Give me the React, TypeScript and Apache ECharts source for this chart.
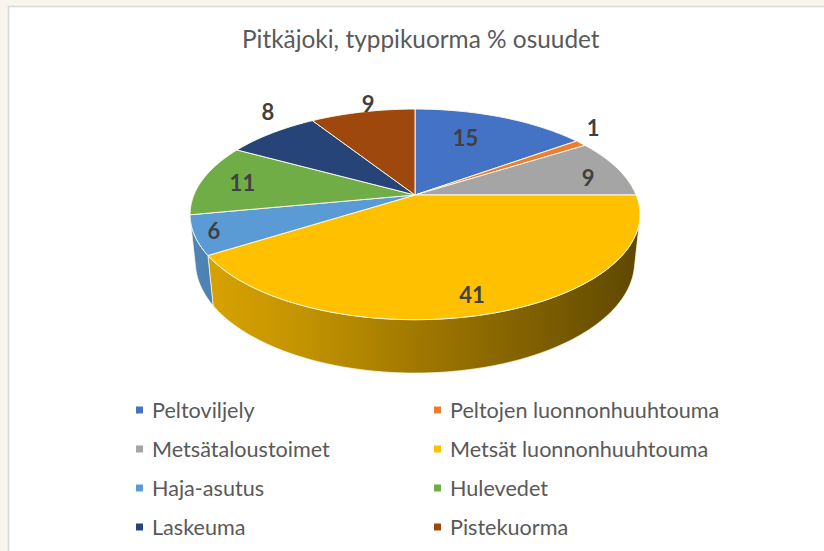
import React, { useEffect, useRef } from "react";
import * as echarts from "echarts";

// ---- data ----
const titleText = "Pitkäjoki, typpikuorma % osuudet";
const categories = [
  "Peltoviljely",
  "Peltojen luonnonhuuhtouma",
  "Metsätaloustoimet",
  "Metsät luonnonhuuhtouma",
  "Haja-asutus",
  "Hulevedet",
  "Laskeuma",
  "Pistekuorma",
];
const values = [15, 1, 9, 41, 6, 11, 8, 9];
const legendLeftNames = ["Peltoviljely", "Metsätaloustoimet", "Haja-asutus", "Laskeuma"];
const legendRightNames = ["Peltojen luonnonhuuhtouma", "Metsät luonnonhuuhtouma", "Hulevedet", "Pistekuorma"];

// ---- styles ----
const colors = ["#4472C4", "#ED7D31", "#A5A5A5", "#FFC000", "#5B9BD5", "#70AD47", "#264478", "#9E480E"];
const labelRadius = [0.62, 1.13, 0.8, 0.83, 0.9, 0.78, 1.16, 1.1];
const labelNudge = [[-6, -6], [-7, -10], [10, 4], [-3, 4], [-4, 0], [-6, 0], [16, -13], [10, -1]];

// 3D projection parameters (unit pie radius)
const CX = 415;
const CY = 195;
const DIST = 4.83;
const FOCAL = 1068;
const ALPHA = (27.4 * Math.PI) / 180;
const DEPTH = 0.243;
const SA = Math.sin(ALPHA);
const CA = Math.cos(ALPHA);

function proj(phi: number, r: number, y: number): number[] {
  const X = r * Math.sin(phi);
  const Z = r * Math.cos(phi);
  const yc = y * CA + Z * SA;
  const d = DIST + Z * CA - y * SA;
  return [CX + (FOCAL * X) / d, CY - (FOCAL * yc) / d];
}

function shade(hex: string, f: number): string {
  const n = parseInt(hex.slice(1), 16);
  const r = Math.round(((n >> 16) & 255) * f);
  const g = Math.round(((n >> 8) & 255) * f);
  const b = Math.round((n & 255) * f);
  return `rgb(${r},${g},${b})`;
}

function arcPoints(a: number, b: number, y: number): number[][] {
  const steps = Math.max(2, Math.ceil(((b - a) * 180) / Math.PI));
  const pts: number[][] = [];
  for (let i = 0; i <= steps; i++) {
    pts.push(proj(a + ((b - a) * i) / steps, 1, y));
  }
  return pts;
}

export default function App() {
  const ref = useRef<HTMLDivElement>(null);

  useEffect(() => {
    if (!ref.current) return;
    const chart = echarts.init(ref.current, undefined, { renderer: "svg" });
    const total = values.reduce((s, v) => s + v, 0);
    const phiT = Math.acos(-1 / (DIST * CA));

    const series = categories.map((name, idx) => ({
      type: "custom",
      name,
      coordinateSystem: "none",
      silent: true,
      itemStyle: { color: colors[idx] },
      data: [values[idx]],
      renderItem: (params: any, api: any) => {
        const v = api.value(0);
        let before = 0;
        for (let k = 0; k < idx; k++) before += values[k];
        const a = (before / total) * Math.PI * 2;
        const b = ((before + v) / total) * Math.PI * 2;
        const color = colors[idx];
        const children: any[] = [];

        // side wall (visible front part only)
        const lo = Math.max(a, phiT);
        const hi = Math.min(b, Math.PI * 2 - phiT);
        if (lo < hi) {
          const top = arcPoints(lo, hi, 0);
          const bot = arcPoints(lo, hi, -DEPTH).reverse();
          children.push({
            type: "polygon",
            z2: 1,
            shape: { points: top.concat(bot) },
            style: {
              fill: {
                type: "linear",
                x: 190,
                y: 0,
                x2: 640,
                y2: 0,
                global: true,
                colorStops: [
                  { offset: 0, color: shade(color, 0.86) },
                  { offset: 0.24, color: shade(color, 0.77) },
                  { offset: 0.5, color: shade(color, 0.63) },
                  { offset: 0.8, color: shade(color, 0.48) },
                  { offset: 1, color: shade(color, 0.37) },
                ],
              },
              stroke: "rgba(255,250,230,0.9)",
              lineWidth: 0.8,
            },
          });
        }

        // top face
        const rim = arcPoints(a, b, 0);
        children.push({
          type: "polygon",
          z2: 10,
          shape: { points: [proj(0, 0, 0)].concat(rim) },
          style: { fill: color, stroke: "rgba(255,250,235,0.95)", lineWidth: 1 },
        });

        // label
        const mid = (a + b) / 2;
        const p = proj(mid, labelRadius[idx], 0);
        children.push({
          type: "text",
          z2: 20,
          x: p[0] + labelNudge[idx][0],
          y: p[1] + labelNudge[idx][1],
          style: {
            text: String(v),
            fill: "#404040",
            font: "bold 22px Lato",
            align: "center",
            verticalAlign: "middle",
          },
        });
        return { type: "group", children };
      },
    }));

    const legendCommon = {
      orient: "vertical",
      icon: "rect",
      itemWidth: 7,
      itemHeight: 7,
      itemGap: 17,
      padding: 0,
      selectedMode: false,
      textStyle: {
        color: "#595959",
        fontSize: 21.6,
        fontFamily: "Lato",
        lineHeight: 22,
        padding: [0, 0, 0, 4],
      },
    };

    chart.setOption({
      animation: false,
      backgroundColor: "#F8F5EE",
      title: {
        text: titleText,
        left: 242,
        top: 26,
        padding: 0,
        textStyle: { color: "#595959", fontSize: 24.4, fontWeight: "normal", fontFamily: "Lato" },
      },
      graphic: [
        {
          type: "rect",
          silent: true,
          z: -10,
          shape: { x: 8.5, y: 6.5, width: 830, height: 560 },
          style: { fill: "#FFFFFF", stroke: "#D9D9D9", lineWidth: 1.5 },
        },
      ],
      legend: [
        { ...legendCommon, left: 136, top: 399, data: legendLeftNames },
        { ...legendCommon, left: 434, top: 399, data: legendRightNames },
      ],
      series,
    });

    return () => chart.dispose();
  }, []);

  return (
    <div
      ref={ref}
      style={{ position: "fixed", left: 0, top: 0, width: 824, height: 551 }}
    />
  );
}
